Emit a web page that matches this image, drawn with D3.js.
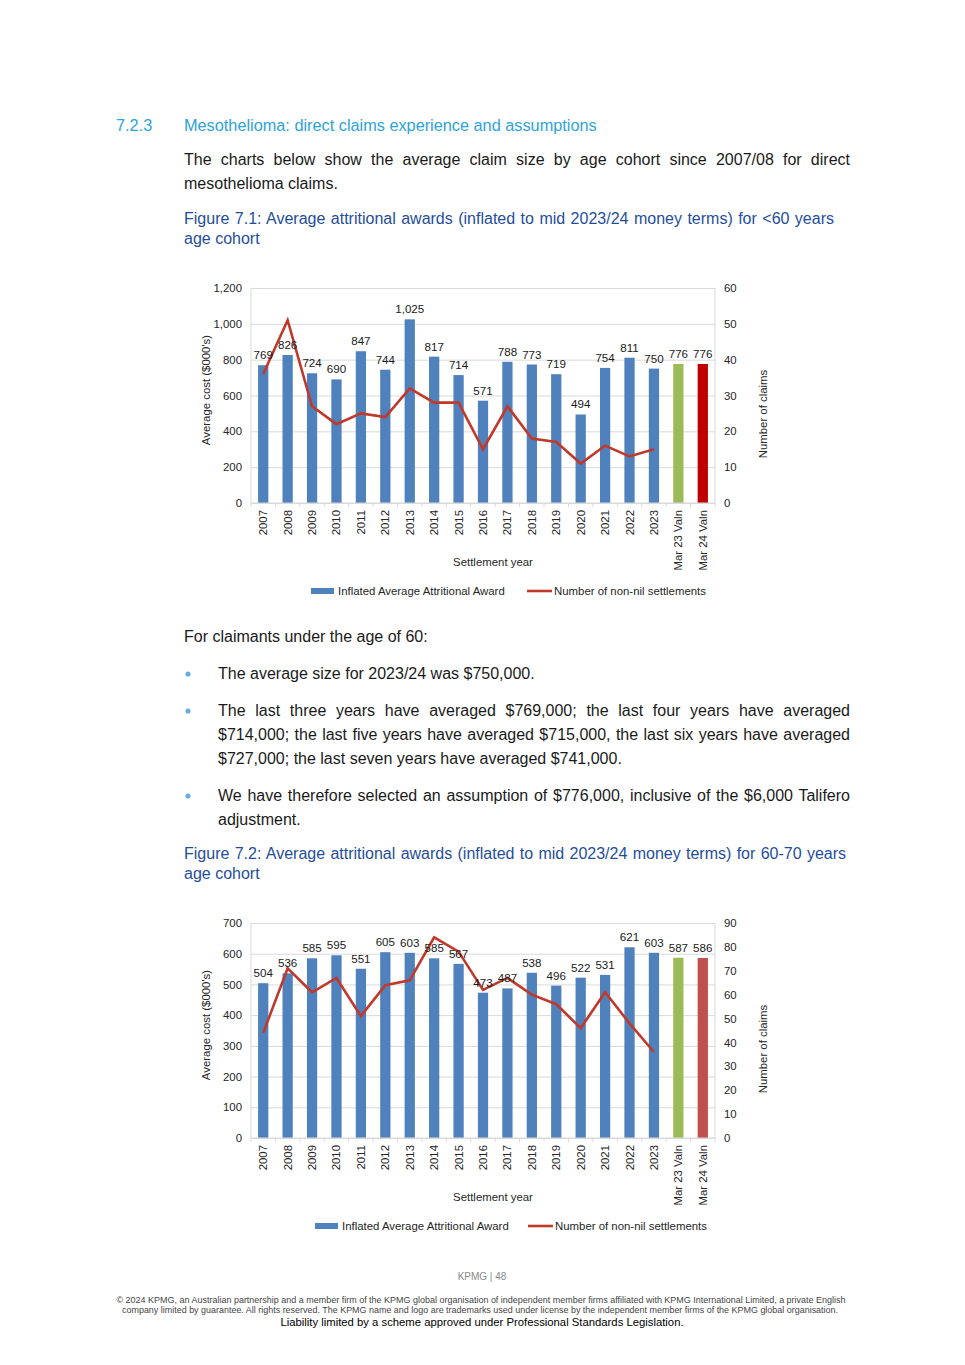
<!DOCTYPE html>
<html>
<head>
<meta charset="utf-8">
<script src="https://cdn.jsdelivr.net/npm/d3@7"></script>
<style>
  body { margin: 0; background: #fff; }
  svg text { font-family: "Liberation Sans", Arial, sans-serif; }
</style>
</head>
<body>
<svg id="page"></svg>
<script>
// settlement years + the two valuation bars
var categories = ["2007","2008","2009","2010","2011","2012","2013","2014","2015","2016",
  "2017","2018","2019","2020","2021","2022","2023","Mar 23 Valn","Mar 24 Valn"];

// <60 cohort
var avgUnder60 = [769,826,724,690,847,744,1025,817,714,571,788,773,719,494,754,811,750,776,776];
var countUnder60 = [36,51,27,22,25,24,32,28,28,15,27,18,17,11,16,13,15];
var leftTicksUnder60 = [0,200,400,600,800,1000,1200];
var rightTicksUnder60 = [0,10,20,30,40,50,60];

// 60-70 cohort
var avg6070 = [504,536,585,595,551,605,603,585,567,473,487,538,496,522,531,621,603,587,586];
var count6070 = [44,71,61,67,51,64,66,84,78,62,67,60,56,46,61,48,36];
var leftTicks6070 = [0,100,200,300,400,500,600,700];
var rightTicks6070 = [0,10,20,30,40,50,60,70,80,90];

var seriesNames = ["Inflated Average Attritional Award", "Number of non-nil settlements"];

var W = 965, H = 1365;
var svg = d3.select("#page").attr("width", W).attr("height", H);
svg.append("rect").attr("width", W).attr("height", H).attr("fill", "#fff");

var blue = "#4f81bd", green = "#9bbb59", lineRed = "#c0392b";
var headBlue = "#2ea3dc", capBlue = "#1f4e9c", bodyCol = "#1a1a1a";
var fs = 11.4; // chart font size

// ---------- page text ----------
function docText(x, y, txt, opt) {
  opt = opt || {};
  var t = svg.append("text")
    .attr("x", x).attr("y", y)
    .attr("font-size", opt.size || 16)
    .attr("fill", opt.fill || bodyCol)
    .text(txt);
  if (opt.anchor) t.attr("text-anchor", opt.anchor);
  if (opt.len) {
    // justify by stretching the gaps between words
    var natural = t.node().getComputedTextLength();
    var gaps = txt.split(" ").length - 1;
    if (gaps > 0 && natural < opt.len) t.attr("word-spacing", (opt.len - natural) / gaps);
    else t.attr("textLength", opt.len).attr("lengthAdjust", "spacing");
  }
  return t;
}

docText(116, 131, "7.2.3", {fill: headBlue, size: 16.3});
docText(184, 131, "Mesothelioma: direct claims experience and assumptions", {fill: headBlue, size: 16.3});
docText(184, 165, "The charts below show the average claim size by age cohort since 2007/08 for direct", {len: 666});
docText(184, 189, "mesothelioma claims.");
docText(184, 224, "Figure 7.1: Average attritional awards (inflated to mid 2023/24 money terms) for <60 years", {fill: capBlue, len: 650});
docText(184, 244, "age cohort", {fill: capBlue});

docText(184, 642, "For claimants under the age of 60:");
var bullets = [679, 716, 801];
bullets.forEach(function(by) {
  svg.append("circle").attr("cx", 188).attr("cy", by - 5).attr("r", 2.6).attr("fill", "#6aaee0");
});
docText(218, 679, "The average size for 2023/24 was $750,000.");
docText(218, 716, "The last three years have averaged $769,000; the last four years have averaged", {len: 632});
docText(218, 740, "$714,000; the last five years have averaged $715,000, the last six years have averaged", {len: 632});
docText(218, 764, "$727,000; the last seven years have averaged $741,000.");
docText(218, 801, "We have therefore selected an assumption of $776,000, inclusive of the $6,000 Talifero", {len: 632});
docText(218, 825, "adjustment.");
docText(184, 859, "Figure 7.2: Average attritional awards (inflated to mid 2023/24 money terms) for 60-70 years", {fill: capBlue, len: 662});
docText(184, 879, "age cohort", {fill: capBlue});

// footer
docText(482, 1280, "KPMG  |  48", {size: 10, fill: "#8a8a8a", anchor: "middle"});
docText(481, 1303, "\u00a9 2024 KPMG, an Australian partnership and a member firm of the KPMG global organisation of independent member firms affiliated with KPMG International Limited, a private English",
  {size: 8.2, fill: "#444", anchor: "middle"}).attr("textLength", 729).attr("lengthAdjust", "spacingAndGlyphs");
docText(480, 1313, "company limited by guarantee. All rights reserved. The KPMG name and logo are trademarks used under license by the independent member  firms of the KPMG global organisation.",
  {size: 8.2, fill: "#444", anchor: "middle"}).attr("textLength", 716).attr("lengthAdjust", "spacingAndGlyphs");
svg.append("text").attr("x", 482).attr("y", 1326).attr("text-anchor", "middle")
  .attr("font-size", 11.3).attr("fill", "#000")
  .text("Liability limited by a scheme approved under Professional Standards Legislation.");

// ---------- charts ----------
function drawChart(cfg) {
  var left = 251, right = 715;
  var top = cfg.top, bottom = cfg.top + 215;
  var g = svg.append("g");

  var x = d3.scaleBand().domain(categories).range([left, right])
    .paddingInner(0.58).paddingOuter(0.29);
  var yL = d3.scaleLinear().domain([0, cfg.leftMax]).range([bottom, top]);
  var yR = d3.scaleLinear().domain([0, cfg.rightMax]).range([bottom, top]);

  // gridlines
  g.append("g").attr("transform", "translate(" + left + ",0)")
    .call(d3.axisLeft(yL).tickValues(cfg.leftTicks).tickSize(-(right - left)).tickFormat(""))
    .call(function(a) {
      a.select(".domain").remove();
      a.selectAll("line").attr("stroke", "#d9d9d9");
    });
  // side axis lines
  g.append("line").attr("x1", left).attr("x2", left).attr("y1", top).attr("y2", bottom).attr("stroke", "#d9d9d9");
  g.append("line").attr("x1", right).attr("x2", right).attr("y1", top).attr("y2", bottom).attr("stroke", "#d9d9d9");

  // left axis labels
  g.append("g").attr("transform", "translate(" + left + ",0)")
    .call(d3.axisLeft(yL).tickValues(cfg.leftTicks).tickSize(0).tickPadding(9).tickFormat(d3.format(",")))
    .call(function(a) {
      a.select(".domain").remove();
      a.selectAll("text").attr("font-size", fs).attr("fill", "#262626")
        .attr("font-family", "'Liberation Sans', Arial, sans-serif");
    });
  // right axis labels
  g.append("g").attr("transform", "translate(" + right + ",0)")
    .call(d3.axisRight(yR).tickValues(cfg.rightTicks).tickSize(0).tickPadding(9))
    .call(function(a) {
      a.select(".domain").remove();
      a.selectAll("text").attr("font-size", fs).attr("fill", "#262626")
        .attr("font-family", "'Liberation Sans', Arial, sans-serif");
    });

  // bars
  g.selectAll("rect.bar").data(cfg.avg).enter().append("rect").attr("class", "bar")
    .attr("x", function(d, i) { return x(categories[i]); })
    .attr("width", x.bandwidth())
    .attr("y", function(d) { return yL(d); })
    .attr("height", function(d) { return bottom - yL(d); })
    .attr("fill", function(d, i) {
      if (i === categories.length - 2) return green;
      if (i === categories.length - 1) return cfg.lastColor;
      return blue;
    });

  // bottom axis line + ticks at band edges
  g.append("line").attr("x1", left).attr("x2", right).attr("y1", bottom).attr("y2", bottom).attr("stroke", "#d9d9d9");
  var edges = categories.map(function(c) { return x(c) - x.step() * 0.29; }).concat([right]);
  g.selectAll("line.tk").data(edges).enter().append("line").attr("class", "tk")
    .attr("x1", function(d) { return d; }).attr("x2", function(d) { return d; })
    .attr("y1", bottom).attr("y2", bottom + 4).attr("stroke", "#d9d9d9");

  // line series
  var line = d3.line()
    .x(function(d, i) { return x(categories[i]) + x.bandwidth() / 2; })
    .y(function(d) { return yR(d); });
  g.append("path").datum(cfg.count).attr("d", line)
    .attr("fill", "none").attr("stroke", lineRed).attr("stroke-width", 2.6)
    .attr("stroke-linejoin", "miter");

  // data labels
  g.selectAll("text.lbl").data(cfg.avg).enter().append("text").attr("class", "lbl")
    .attr("x", function(d, i) { return x(categories[i]) + x.bandwidth() / 2; })
    .attr("y", function(d) { return yL(d) - 6; })
    .attr("text-anchor", "middle").attr("font-size", 11.6).attr("fill", "#1a1a1a")
    .text(d3.format(","));

  // x tick labels, rotated
  g.selectAll("text.xl").data(categories).enter().append("text").attr("class", "xl")
    .attr("transform", function(d) {
      return "translate(" + (x(d) + x.bandwidth() / 2 + 4) + "," + (bottom + 7) + ") rotate(-90)";
    })
    .attr("text-anchor", "end").attr("font-size", fs).attr("fill", "#262626")
    .text(function(d) { return d; });

  // axis titles
  g.append("text").attr("transform", "translate(210," + (top + 102) + ") rotate(-90)")
    .attr("text-anchor", "middle").attr("font-size", fs).attr("fill", "#262626")
    .text("Average cost ($000's)");
  g.append("text").attr("transform", "translate(767," + (top + 126) + ") rotate(-90)")
    .attr("text-anchor", "middle").attr("font-size", fs).attr("fill", "#262626")
    .text("Number of claims");
  g.append("text").attr("x", 493).attr("y", bottom + 63)
    .attr("text-anchor", "middle").attr("font-size", fs).attr("fill", "#262626")
    .text("Settlement year");

  // legend
  var ly = bottom + 88;
  g.append("rect").attr("x", cfg.legX[0]).attr("y", ly - 3).attr("width", 23).attr("height", 6).attr("fill", blue);
  g.append("text").attr("x", cfg.legX[0] + 27).attr("y", ly + 4).attr("font-size", fs).attr("fill", "#262626")
    .text(seriesNames[0]);
  g.append("line").attr("x1", cfg.legX[1]).attr("x2", cfg.legX[1] + 25).attr("y1", ly).attr("y2", ly)
    .attr("stroke", lineRed).attr("stroke-width", 2.6);
  g.append("text").attr("x", cfg.legX[1] + 27).attr("y", ly + 4).attr("font-size", fs).attr("fill", "#262626")
    .text(seriesNames[1]);
}

drawChart({top: 288, leftMax: 1200, rightMax: 60, leftTicks: leftTicksUnder60, rightTicks: rightTicksUnder60,
  avg: avgUnder60, count: countUnder60, lastColor: "#c00000", legX: [311, 527]});
drawChart({top: 923, leftMax: 700, rightMax: 90, leftTicks: leftTicks6070, rightTicks: rightTicks6070,
  avg: avg6070, count: count6070, lastColor: "#c0504d", legX: [315, 528]});
</script>
</body>
</html>
